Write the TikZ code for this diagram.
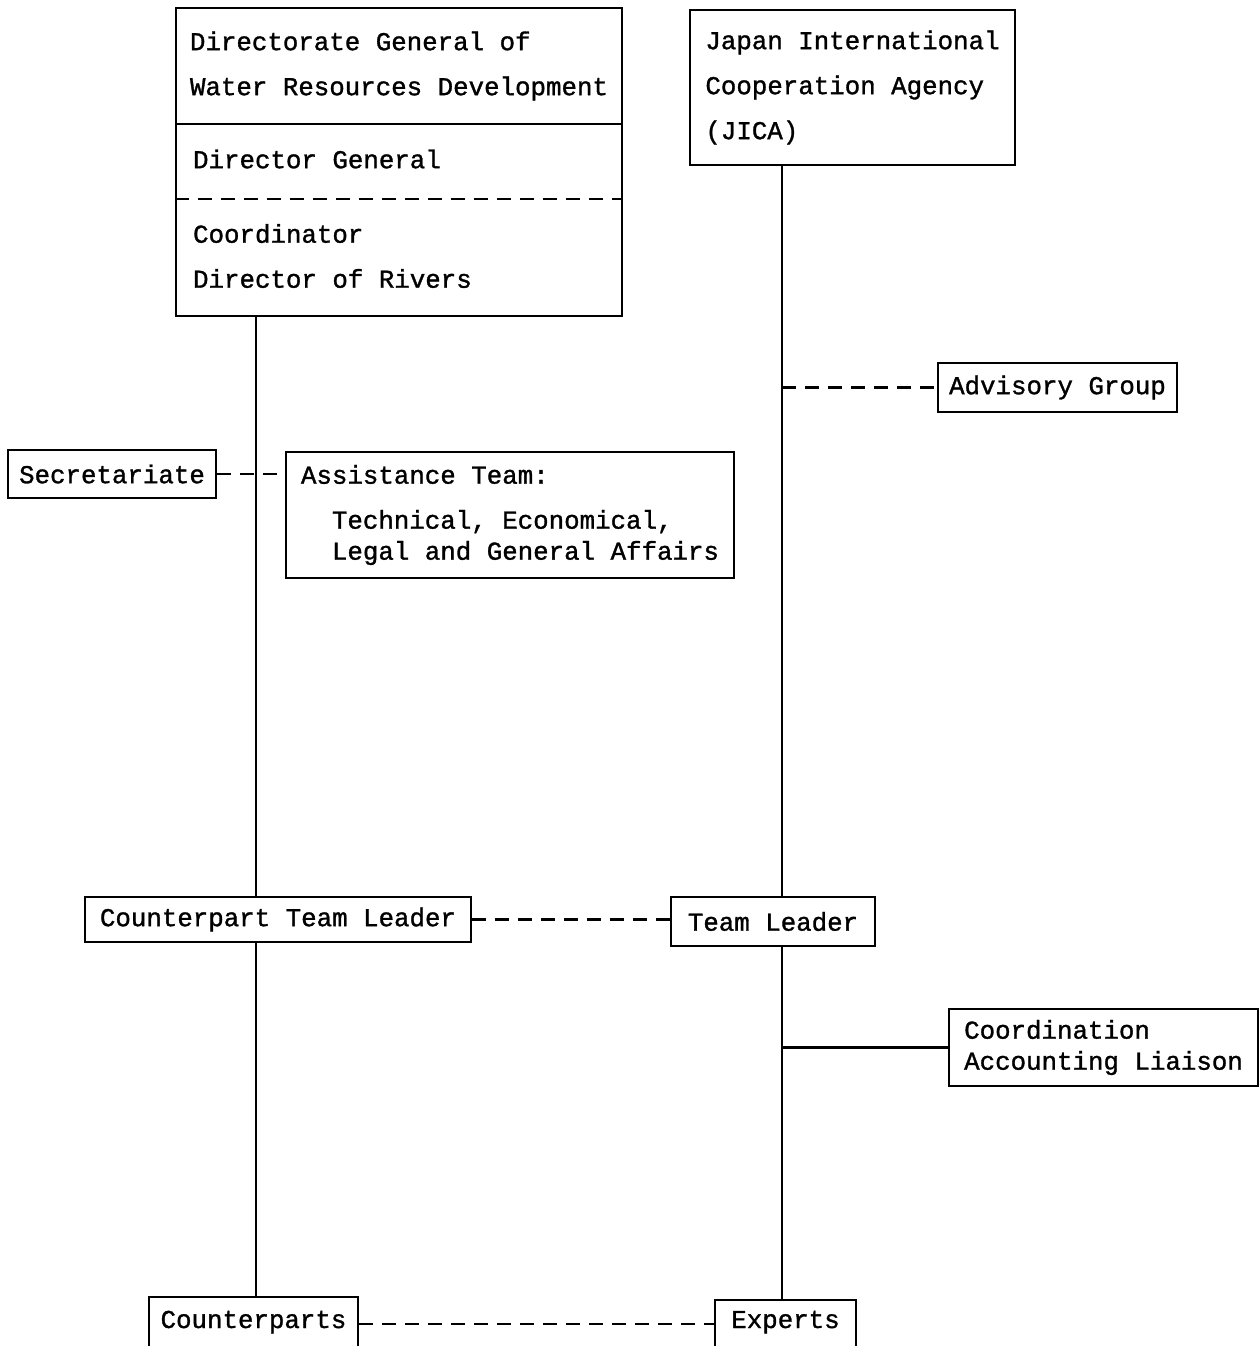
\documentclass[tikz,border=0pt]{standalone}
\usepackage{fontspec}
\newfontfamily\typewriter[FakeBold=1.2]{Liberation Mono}
\usepackage{tikz}

\begin{document}
\begin{tikzpicture}[
        x=1pt, y=-1pt,
        line width=2.2pt,
        box/.style={draw,inner sep=0pt,align=left,font=\typewriter\fontsize{25.8}{31}\selectfont},
        boxtext/.style={inner sep=0pt,align=left,font=\typewriter\fontsize{25.8}{31}\selectfont},
        link/.style={dash pattern=on 14pt off 9pt}
    ]
        \useasboundingbox (0,0) rectangle (1260,1346);
        \clip (0,0) rectangle (1260,1346);

        % spines of the two organisations
        \coordinate (lspine) at (256,0);
        \coordinate (rspine) at (782,0);

        % Indonesian side
        \node [box,minimum width=446pt,minimum height=116pt] (dghead) at (399,66)
            {Directorate General of\\[14pt]Water Resources Development};
        \node [box,minimum width=446pt,minimum height=192pt] (dgbody) at (399,220) {};
        \node [boxtext,anchor=west] (dgchief) at (192,159) {Director General};
        \node [boxtext,anchor=west] (dgcoord) at (192,256) {Coordinator\\[14pt]Director of Rivers};
        \draw [link] ([yshift=-76pt]dgbody.north west) -- ([yshift=-76pt]dgbody.north east);

        \node [box,minimum width=208pt,minimum height=48pt] (secret) at (112,474) {Secretariate};
        \node [box,minimum width=448pt,minimum height=126pt] (assist) at (510,515)
            {Assistance Team:\\[14pt]\phantom{xx}Technical, Economical,\\\phantom{xx}Legal and General Affairs};
        \node [box,minimum width=386pt,minimum height=45pt] (ctl) at (278,919.5) {Counterpart Team Leader};
        \node [box,minimum width=209pt,text height=31pt,text depth=40pt,anchor=base] (cparts) at (253.5,1328) {Counterparts};

        % Japanese side
        \node [box,minimum width=325pt,minimum height=155pt] (jica) at (852.5,87.5)
            {Japan International\\[14pt]Cooperation Agency\\[14pt](JICA)};
        \node [box,minimum width=239pt,minimum height=49pt] (advisory) at (1057.5,387.5) {Advisory Group};
        \node [box,minimum width=204pt,minimum height=49pt] (tl) at (773,921.5) {Team Leader};
        \node [box,minimum width=309pt,minimum height=77pt] (coord) at (1103.5,1047.5)
            {Coordination\\Accounting Liaison};
        \node [box,minimum width=141pt,text height=28pt,text depth=40pt,anchor=base] (experts) at (785.5,1328) {Experts};

        % lines of command
        \draw (dgbody.south -| lspine) -- (ctl.north -| lspine);
        \draw (ctl.south -| lspine) -- (cparts.north -| lspine);
        \draw (jica.south -| rspine) -- (tl.north -| rspine);
        \draw (tl.south -| rspine) -- (experts.north -| rspine);
        \draw (coord.west -| rspine) -- (coord.west);

        % lines of cooperation
        \draw [link] (advisory.west -| rspine) -- (advisory.west);
        \draw [link] (secret.east) -- (assist.west |- secret.east);
        \draw [link] (ctl.east) -- (tl.west |- ctl.east);
        \draw [link] ([yshift=4pt]cparts.base east) -- ([yshift=4pt]experts.base west);
    \end{tikzpicture}
\end{document}
